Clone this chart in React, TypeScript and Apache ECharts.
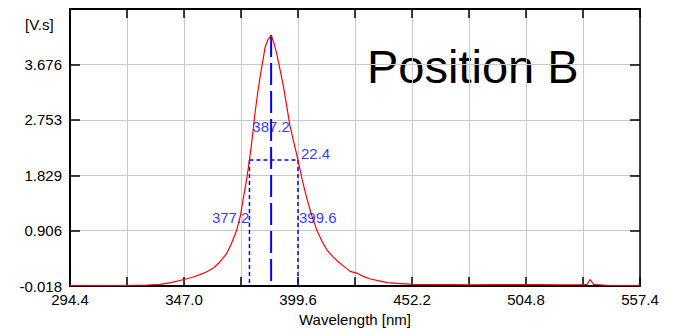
import React, { useEffect, useRef } from "react";
import * as echarts from "echarts";

// ---- data ----
const wavelengths = [
  294.4, 300, 310, 320, 330, 336, 341, 347, 351, 354.4, 357.5, 360.5, 363.5, 366.7, 369, 371.3, 373,
  374.4, 376, 377.2, 378.5, 379.8, 381, 382.1, 383.3, 384.4, 385.8, 387.2, 388.5, 389.8, 391.3, 392.9,
  394.4, 395.9, 397.8, 399.6, 401.5, 403.6, 406, 408.3, 410.5, 412.9, 416, 419, 421.5, 423.6, 426.7,
  429.6, 433, 437.5, 441, 445.2, 452.7, 460, 470, 480, 490, 500, 510, 520, 530, 533, 534.4, 536, 540,
  545, 550, 555, 557.4,
];
const intensities = [
  -0.01, -0.01, -0.01, -0.008, 0.0, 0.01, 0.04, 0.092, 0.13, 0.173, 0.22, 0.281, 0.38, 0.526, 0.7, 0.914,
  1.15, 1.453, 1.78, 2.08, 2.45, 2.875, 3.2, 3.468, 3.72, 3.959, 4.09, 4.166, 4.03, 3.851, 3.59, 3.305,
  2.98, 2.651, 2.36, 2.08, 1.76, 1.453, 1.15, 0.914, 0.74, 0.587, 0.46, 0.363, 0.29, 0.227, 0.199,
  0.145, 0.1, 0.064, 0.04, 0.026, 0.01, 0.006, 0.008, 0.004, 0.007, 0.005, 0.006, 0.004, 0.005, 0.01,
  0.092, 0.01, 0.0, -0.012, -0.008, -0.015, 0.0,
];
// FWHM annotation: [left, center, right, width]
const fwhmValues = [377.2, 387.2, 399.6, 22.4];

const xTickLabels = ["294.4", "347.0", "399.6", "452.2", "504.8", "557.4"];
const yTickLabels = ["-0.018", "0.906", "1.829", "2.753", "3.676", "4.599"];
const xMinValue = 294.4;
const xStep = 26.3;
const xSteps = 10;
const yMinValue = -0.018;
const yStep = 0.9235;
const ySteps = 5;

const FONT = "'Liberation Sans', Arial, sans-serif";
const BLUE = "#0000ff";

export default function App() {
  const ref = useRef<HTMLDivElement>(null);

  useEffect(() => {
    if (!ref.current) return;
    const chart = echarts.init(ref.current, undefined, { renderer: "svg" });

    const tx = (w: number) => w - xMinValue;
    const ty = (v: number) => v - yMinValue;
    const curve = wavelengths.map((w, i) => [tx(w), ty(intensities[i])]);
    const peak = Math.max(...intensities);
    const half = peak / 2;
    const [left, center, right, width] = fwhmValues;

    const axisBase = {
      type: "value" as const,
      axisLine: { show: true, onZero: false, lineStyle: { color: "#000", width: 2 } },
      axisTick: { show: true, inside: true, length: 9, lineStyle: { color: "#000", width: 1.5 } },
      splitLine: { show: true, lineStyle: { color: "#c8c8c8", width: 1 } },
    };

    const lineSeries = (data: number[][], type: any, w: number) => ({
      type: "line",
      data,
      xAxisIndex: 0,
      yAxisIndex: 0,
      showSymbol: false,
      symbol: "none",
      silent: true,
      lineStyle: { color: BLUE, width: w, type },
      z: 3,
    });

    const labelItem = (x: number, y: number, text: string, align: string, offset: number[]) => ({
      value: [tx(x), ty(y)],
      label: {
        show: true,
        position: "inside",
        formatter: text,
        align,
        verticalAlign: "middle",
        offset,
        color: BLUE,
        fontSize: 15,
        fontFamily: FONT,
      },
    });

    chart.setOption({
      animation: false,
      backgroundColor: "#ffffff",
      grid: { left: 70, right: 34, top: 9, bottom: 42, containLabel: false },
      xAxis: [
        {
          ...axisBase,
          position: "bottom",
          min: 0,
          max: xStep * xSteps,
          interval: xStep,
          name: "Wavelength [nm]",
          nameLocation: "middle",
          nameGap: 25,
          nameTextStyle: { color: "#000", fontSize: 15, fontFamily: FONT },
          axisLabel: {
            show: true,
            margin: 6,
            color: "#000",
            fontSize: 15,
            fontFamily: FONT,
            formatter: (v: number) => {
              const i = Math.round(v / xStep);
              return i % 2 === 0 ? xTickLabels[i / 2] : "";
            },
          },
        },
        {
          ...axisBase,
          position: "top",
          min: 0,
          max: xStep * xSteps,
          interval: xStep,
          axisLabel: { show: false },
          splitLine: { show: false },
        },
      ],
      yAxis: [
        {
          ...axisBase,
          position: "left",
          min: 0,
          max: yStep * ySteps,
          interval: yStep,
          axisTick: { show: true, inside: true, length: 10, lineStyle: { color: "#000", width: 1.5 } },
          axisLabel: {
            show: true,
            margin: 8,
            color: "#000",
            fontSize: 15,
            fontFamily: FONT,
            showMaxLabel: false,
            padding: [0, 0, 11, 0],
            formatter: (v: number) => yTickLabels[Math.round(v / yStep)] ?? "",
          },
        },
        {
          ...axisBase,
          position: "right",
          min: 0,
          max: yStep * ySteps,
          interval: yStep,
          axisLine: { show: true, onZero: false, lineStyle: { color: "#000", width: 1.5 } },
          axisTick: { show: true, inside: true, length: 10, lineStyle: { color: "#000", width: 1.5 } },
          axisLabel: { show: false },
          splitLine: { show: false },
        },
      ],
      graphic: [
        {
          type: "text",
          left: 25,
          top: 17,
          style: { text: "[V.s]", fill: "#000", font: `15px ${FONT}` },
        },
        {
          type: "text",
          x: 367,
          y: 66,
          style: {
            text: "Position B",
            fill: "#000",
            font: `47px ${FONT}`,
            textVerticalAlign: "middle",
            verticalAlign: "middle",
          },
        },
      ],
      series: [
        {
          type: "line",
          data: curve,
          showSymbol: false,
          symbol: "none",
          silent: true,
          lineStyle: { color: "#ff0000", width: 1.2 },
          z: 4,
        },
        lineSeries([[tx(center), ty(peak)], [tx(center), 0]], [22, 6], 2),
        lineSeries([[tx(left), ty(half)], [tx(right), ty(half)]], [4, 3], 1.5),
        lineSeries([[tx(left), ty(half)], [tx(left), 0]], [4, 3], 1.5),
        lineSeries([[tx(right), ty(half)], [tx(right), 0]], [4, 3], 1.5),
        {
          type: "scatter",
          symbolSize: 0,
          silent: true,
          z: 5,
          data: [
            labelItem(center, half, center.toFixed(1), "center", [0, -34]),
            labelItem(right, half, width.toFixed(1), "left", [3, -7]),
            labelItem(left, half, left.toFixed(1), "right", [0, 57]),
            labelItem(right, half, right.toFixed(1), "left", [1, 57]),
          ],
        },
      ],
    });

    return () => chart.dispose();
  }, []);

  return (
    <div
      ref={ref}
      style={{ position: "fixed", left: 0, top: 0, width: 674, height: 332, background: "#fff" }}
    />
  );
}
